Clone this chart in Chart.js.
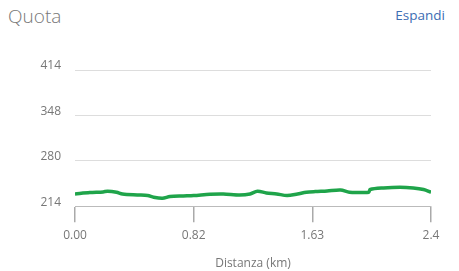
<!DOCTYPE html>
<html>
<head>
<meta charset="utf-8">
<script src="https://cdn.jsdelivr.net/npm/chart.js@4"></script>
<style>
  html, body { margin: 0; padding: 0; background: #fff; }
  body { width: 459px; height: 271px; position: relative; overflow: hidden; font-family: "Open Sans", sans-serif; }
  .titolo { position: absolute; left: 8px; top: 3px; font-size: 19px; font-weight: 300; color: #777; }
  .espandi { position: absolute; right: 14px; top: 6px; font-size: 13.5px; color: #3d6db3; }
  #wrap { position: absolute; left: 0; top: 0; width: 459px; height: 271px; }
</style>
</head>
<body>
<div class="titolo">Quota</div>
<div class="espandi">Espandi</div>
<div id="wrap"><canvas id="quota-chart"></canvas></div>
<script>
// profilo altimetrico (km, m)
const distanze = [0.00, 0.10, 0.19, 0.22, 0.28, 0.32, 0.42, 0.49, 0.53, 0.59, 0.64, 0.73, 0.80,
  0.91, 1.00, 1.11, 1.18, 1.23, 1.29, 1.36, 1.43, 1.50, 1.56, 1.62, 1.70, 1.79, 1.85, 1.92,
  1.98, 1.99, 2.08, 2.19, 2.28, 2.35, 2.40];
const quote = [232, 234, 235, 236, 234.5, 232, 230.5, 229.7, 227.2, 225.7, 228.2, 229.1, 229.7,
  231.6, 232, 230.6, 232, 236, 233.5, 232, 229.7, 232, 234.5, 235.5, 236.4, 237.9, 234.5, 234.1,
  234.5, 238.5, 240.8, 241.8, 240.8, 238.5, 234.5];

// etichette degli assi (posizioni equidistanti)
const xTickPos = [0, 0.8, 1.6, 2.4];
const xTickLabels = ['0.00', '0.82', '1.63', '2.4'];
const yTickPos = [214, 214 + 200 / 3, 214 + 400 / 3, 414];
const yTickLabels = ['214', '280', '348', '414'];

const punti = distanze.map((d, i) => ({ x: d, y: quote[i] }));
const font = { family: '"Open Sans", sans-serif', size: 12 };

new Chart(document.getElementById('quota-chart'), {
  type: 'line',
  data: {
    datasets: [{
      data: punti,
      borderColor: '#1fa44a',
      borderWidth: 3.5,
      pointRadius: 0,
      tension: 0.3,
      fill: false
    }]
  },
  options: {
    responsive: true,
    maintainAspectRatio: false,
    animation: false,
    layout: { padding: { top: 70, right: 28, bottom: 0, left: 0 } },
    plugins: { legend: { display: false }, tooltip: { enabled: false } },
    scales: {
      x: {
        type: 'linear',
        min: 0,
        max: 2.4,
        afterBuildTicks: s => { s.ticks = xTickPos.map(v => ({ value: v })); },
        ticks: {
          callback: (v, i) => xTickLabels[i],
          color: '#777',
          font,
          padding: 6,
          maxRotation: 0
        },
        grid: { drawOnChartArea: false, drawTicks: true, tickLength: 16, color: '#aaa', lineWidth: 1.5 },
        border: { display: true, color: '#bbb' },
        title: { display: true, text: 'Distanza (km)', color: '#777', font, padding: { top: 8, bottom: 0 } }
      },
      y: {
        min: 214,
        max: 414,
        afterBuildTicks: s => { s.ticks = yTickPos.map(v => ({ value: v })); },
        afterFit: s => { s.width = 75; },
        ticks: {
          callback: (v, i) => yTickLabels[i],
          color: '#777',
          font,
          padding: 14,
          labelOffset: -4
        },
        grid: { drawTicks: false, color: '#ddd' },
        border: { display: false }
      }
    }
  }
});
</script>
</body>
</html>
